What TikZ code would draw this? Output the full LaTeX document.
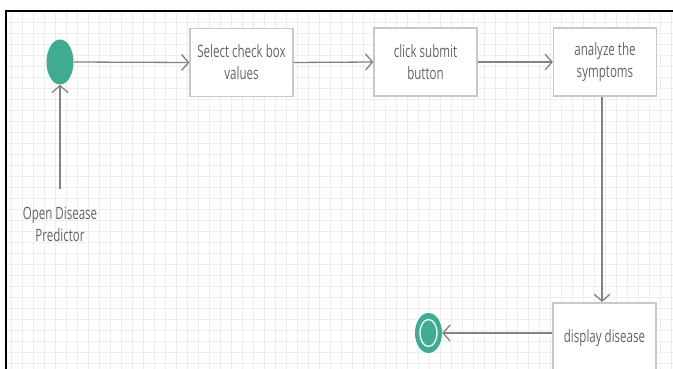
\documentclass[tikz,border=0pt]{standalone}
\usepackage{fontspec}
\setmainfont{Open Sans}[FakeStretch=0.68]
\usetikzlibrary{arrows.meta,shapes.geometric}
\definecolor{teal}{RGB}{62,172,145}
\definecolor{flow}{RGB}{130,130,130}
\definecolor{boxline}{RGB}{200,200,200}
\definecolor{label}{RGB}{100,100,100}
\definecolor{gridc}{RGB}{238,238,238}
\tikzset{
  activity/.style={draw=boxline, line width=1.2pt, fill=white, minimum width=103pt, minimum height=68pt,
    align=center, text=label, font=\fontsize{17}{22}\selectfont, inner sep=0pt},
  flowline/.style={draw=flow, line width=1.3pt, -{Straight Barb[length=7pt,width=16pt,line width=1.3pt]}},
  startdot/.style={ellipse, fill=teal, minimum width=27pt, minimum height=45pt, inner sep=0pt},
}
\begin{document}
\begin{tikzpicture}[x=1pt,y=-1pt]
\useasboundingbox (0,0) rectangle (673,369);
\clip (0,0) rectangle (673,369);
\fill[white] (0,0) rectangle (673,369);
% background grid
\draw[gridc, line width=0.4pt, step=11pt] (6,11) grid (673,369);
% frame edges
\draw[black, line width=2pt] (6,369) -- (6,11) -- (673,11);
% nodes
\node[startdot] (start) at (60,62) {};
\node[activity] (sel) at (241.5,62.5) {Select check box\\values};
\node[activity] (sub) at (425.5,62) {click submit\\button};
\node[activity] (ana) at (605,62) {analyze the\\symptoms};
\node[activity, minimum height=70pt] (dis) at (604.5,338) {display disease};
\node[ellipse, fill=teal, minimum width=27pt, minimum height=40pt, inner sep=0pt] (end) at (428.5,333) {};
\draw[white, line width=1.3pt] (end.center) ellipse [x radius=8.5pt, y radius=13.5pt];
\node[text=label, font=\fontsize{17}{22}\selectfont, align=center] (open) at (60,224) {Open Disease\\Predictor};
\coordinate (dtop) at (602,302);
% connectors
\draw[flowline, shorten <=14pt] (open.north) -- (start.south);
\draw[flowline] (start.east) -- (sel.west);
\draw[flowline] (sel.east) -- (sub.west);
\draw[flowline] (sub.east) -- (ana.west);
\draw[flowline] (ana.south -| dtop) -- (dtop);
\draw[flowline] (dis.west |- end) -- (end.east);
\end{tikzpicture}
\end{document}
